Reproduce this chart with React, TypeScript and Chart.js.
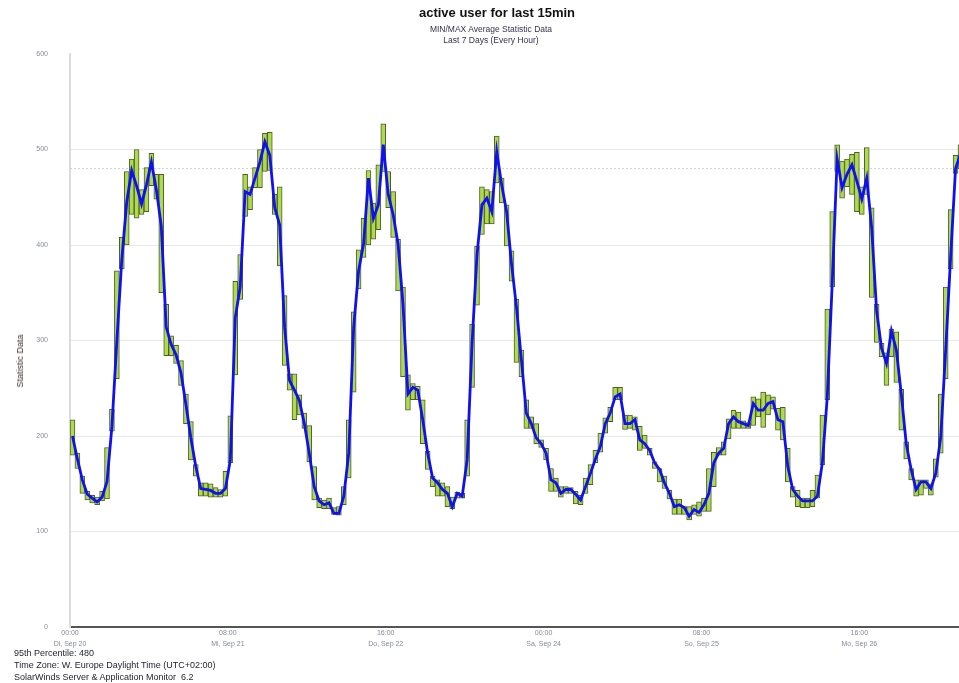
import React, { useEffect, useRef } from 'react';
import { Chart, registerables } from 'chart.js';

Chart.register(...registerables);

// Hourly values, starting Di, Sep 20 00:00
const avgValues = [
  200, 176, 154, 139, 135, 131, 136, 152, 210, 300,
  385, 445, 478, 462, 443, 463, 487, 458, 420, 314,
  296, 285, 266, 233, 198, 168, 145, 144, 143, 140,
  140, 145, 175, 324, 356, 456, 453, 470, 487, 508,
  494, 439, 421, 314, 258, 248, 237, 213, 182, 147,
  132, 128, 130, 119, 119, 137, 182, 314, 373, 401,
  470, 428, 442, 505, 453, 432, 401, 338, 244, 251,
  248, 217, 182, 156, 151, 144, 140, 126, 140, 137,
  175, 297, 390, 442, 449, 435, 498, 463, 435, 380,
  335, 280, 224, 213, 198, 192, 182, 154, 151, 140,
  144, 144, 139, 133, 147, 161, 176, 189, 213, 224,
  241, 244, 213, 213, 217, 196, 192, 185, 172, 165,
  151, 140, 126, 128, 125, 116, 123, 120, 128, 140,
  172, 182, 187, 213, 220, 215, 213, 211, 234, 227,
  227, 234, 236, 217, 215, 168, 144, 137, 132, 132,
  132, 137, 172, 241, 360, 490, 460, 474, 484, 467,
  448, 470, 418, 331, 292, 276, 310, 290, 244, 192,
  165, 144, 152, 152, 145, 161, 199, 290, 387, 480,
  495,
];

const minValues = [
  180, 166, 140, 133, 130, 128, 132, 134, 205, 260,
  375, 400, 432, 428, 432, 435, 462, 448, 350, 284,
  284, 276, 253, 213, 175, 158, 137, 137, 136, 136,
  136, 137, 172, 264, 343, 430, 437, 460, 460, 477,
  478, 432, 378, 274, 248, 217, 222, 208, 173, 133,
  125, 124, 124, 118, 117, 128, 156, 246, 354, 387,
  400, 406, 416, 477, 439, 408, 352, 262, 227, 238,
  238, 192, 165, 147, 137, 137, 126, 124, 135, 135,
  158, 251, 337, 411, 422, 422, 465, 444, 399, 362,
  277, 262, 208, 208, 192, 188, 175, 142, 142, 136,
  140, 140, 129, 128, 140, 149, 172, 183, 203, 215,
  238, 238, 207, 208, 206, 185, 187, 180, 166, 152,
  145, 134, 118, 118, 118, 112, 118, 116, 121, 121,
  147, 180, 180, 197, 208, 208, 208, 208, 211, 220,
  209, 222, 228, 206, 196, 152, 136, 126, 125, 125,
  126, 135, 170, 238, 356, 477, 449, 461, 453, 435,
  432, 453, 345, 298, 283, 253, 283, 256, 206, 176,
  154, 137, 138, 145, 138, 157, 182, 260, 375, 475,
  480,
];

const maxValues = [
  217, 182, 158, 142, 138, 136, 142, 188, 228, 373,
  408, 477, 490, 500, 458, 481, 496, 474, 474, 338,
  305, 295, 279, 244, 215, 170, 151, 151, 150, 146,
  144, 163, 221, 362, 390, 474, 461, 481, 500, 517,
  518, 453, 461, 347, 265, 265, 243, 224, 211, 168,
  135, 133, 135, 125, 126, 147, 217, 330, 395, 428,
  478, 444, 484, 527, 477, 456, 406, 356, 264, 255,
  252, 238, 184, 158, 154, 151, 147, 136, 141, 140,
  217, 317, 399, 461, 458, 456, 514, 470, 442, 394,
  343, 290, 238, 220, 213, 196, 187, 166, 156, 147,
  147, 146, 142, 138, 156, 170, 185, 203, 219, 230,
  251, 251, 222, 222, 220, 210, 201, 187, 173, 166,
  158, 143, 134, 134, 126, 126, 128, 131, 135, 166,
  183, 188, 194, 218, 227, 225, 216, 214, 241, 239,
  246, 243, 241, 229, 230, 187, 147, 143, 135, 135,
  143, 159, 222, 333, 435, 505, 488, 490, 495, 497,
  461, 502, 439, 338, 297, 287, 312, 309, 249, 194,
  166, 154, 154, 154, 150, 176, 244, 356, 437, 494,
  505,
];

const tickHours = [0, 32, 64, 96, 128, 160];
const tickTimes = ['00:00', '08:00', '16:00', '00:00', '08:00', '16:00'];
const tickDates = ['Di, Sep 20', 'Mi, Sep 21', 'Do, Sep 22', 'Sa, Sep 24', 'So, Sep 25', 'Mo, Sep 26'];
const percentile95 = 480;
const yMin = 0;
const yMax = 600;
const yStep = 100;
const xMaxHours = 180.2;

const titleText = 'active user for last 15min';
const subtitleLines = ['MIN/MAX Average Statistic Data', 'Last 7 Days (Every Hour)'];
const yAxisTitle = 'Statistic Data';
const footerLines = [
  '95th Percentile: 480',
  'Time Zone: W. Europe Daylight Time (UTC+02:00)',
  'SolarWinds Server & Application Monitor  6.2',
];

export default function App() {
  const canvasRef = useRef<HTMLCanvasElement | null>(null);

  useEffect(() => {
    if (!canvasRef.current) return;
    const barData = minValues.map((mn, i) => ({ x: i + 0.5, y: [mn, maxValues[i]] }));
    const lineData = avgValues.map((v, i) => ({ x: i + 0.5, y: v }));
    const pctData = [
      { x: 0, y: percentile95 },
      { x: xMaxHours + 1, y: percentile95 },
    ];
    const tickFont = { family: "'Liberation Sans', Arial, sans-serif", size: 7, lineHeight: 1.55 };

    const chart = new Chart(canvasRef.current, {
      type: 'bar',
      data: {
        datasets: [
          {
            type: 'line',
            data: lineData,
            borderColor: '#1010f0',
            borderWidth: 2.8,
            pointRadius: 0,
            tension: 0,
            order: 0,
          } as any,
          {
            type: 'bar',
            data: barData,
            backgroundColor: '#addb4c',
            borderColor: '#4e5d2c',
            borderWidth: 1,
            borderSkipped: false,
            barPercentage: 1,
            categoryPercentage: 1,
            grouped: false,
            order: 1,
          } as any,
          {
            type: 'line',
            data: pctData,
            borderColor: '#cfcfcf',
            borderWidth: 1,
            borderDash: [2, 2],
            pointRadius: 0,
            order: 2,
          } as any,
        ],
      },
      options: {
        animation: false,
        responsive: true,
        maintainAspectRatio: false,
        layout: { padding: { top: 54, bottom: 30, left: 0, right: 0 } },
        plugins: {
          legend: { display: false },
          tooltip: { enabled: false },
          title: { display: false },
        },
        scales: {
          x: {
            type: 'linear',
            min: 0,
            max: xMaxHours,
            offset: false,
            afterBuildTicks: (scale: any) => {
              scale.ticks = tickHours.map((v) => ({ value: v }));
            },
            afterFit: (scale: any) => {
              scale.height = 26;
            },
            grid: { display: false, drawTicks: false },
            border: { display: true, color: '#555555', width: 2 },
            ticks: {
              autoSkip: false,
              maxRotation: 0,
              padding: 1,
              color: '#868a9c',
              font: tickFont,
              callback: (value: any) => {
                const k = tickHours.indexOf(Number(value));
                return k >= 0 ? [tickTimes[k], tickDates[k]] : '';
              },
            },
          },
          y: {
            min: yMin,
            max: yMax,
            afterFit: (scale: any) => {
              scale.width = 70;
            },
            grid: {
              drawTicks: false,
              color: (ctx: any) =>
                ctx.tick && (ctx.tick.value === yMin || ctx.tick.value === yMax) ? 'rgba(0,0,0,0)' : '#e9e9e9',
              lineWidth: 1,
            },
            border: { display: true, color: '#dcdcdc', width: 2 },
            ticks: {
              stepSize: yStep,
              padding: 22,
              color: '#868a9c',
              font: tickFont,
            },
          },
        },
      },
    });
    return () => chart.destroy();
  }, []);

  return (
    <div style={{ position: 'absolute', left: 0, top: 0, width: 959, height: 683, background: '#fff', overflow: 'hidden' }}>
      <div style={{ position: 'absolute', left: 0, top: 0, width: 959, height: 683 }}>
        <canvas ref={canvasRef} />
      </div>
      <div
        style={{
          position: 'absolute', left: 0, top: 5, width: 994, textAlign: 'center',
          fontFamily: "'Liberation Sans', Arial, sans-serif", fontWeight: 'bold', fontSize: 13, lineHeight: '16px', color: '#111',
        }}
      >
        {titleText}
      </div>
      <div
        style={{
          position: 'absolute', left: 0, top: 24, width: 982, textAlign: 'center',
          fontFamily: "'Liberation Sans', Arial, sans-serif", fontSize: 8.5, lineHeight: '11px', color: '#33334d',
        }}
      >
        {subtitleLines.map((s, i) => (
          <div key={i}>{s}</div>
        ))}
      </div>
      <div
        style={{
          position: 'absolute', left: 20, top: 361, width: 0, height: 0,
        }}
      >
        <div
          style={{
            position: 'absolute', left: 0, top: 0, transform: 'translate(-50%, -50%) rotate(-90deg)',
            whiteSpace: 'nowrap', fontFamily: "'Liberation Sans', Arial, sans-serif", fontSize: 9, color: '#3e2e2e',
          }}
        >
          {yAxisTitle}
        </div>
      </div>
      <div
        style={{
          position: 'absolute', left: 14, top: 647,
          fontFamily: "'Liberation Sans', Arial, sans-serif", fontSize: 9, lineHeight: '12px', color: '#1e1e2e', whiteSpace: 'pre',
        }}
      >
        {footerLines.map((s, i) => (
          <div key={i}>{s}</div>
        ))}
      </div>
    </div>
  );
}
